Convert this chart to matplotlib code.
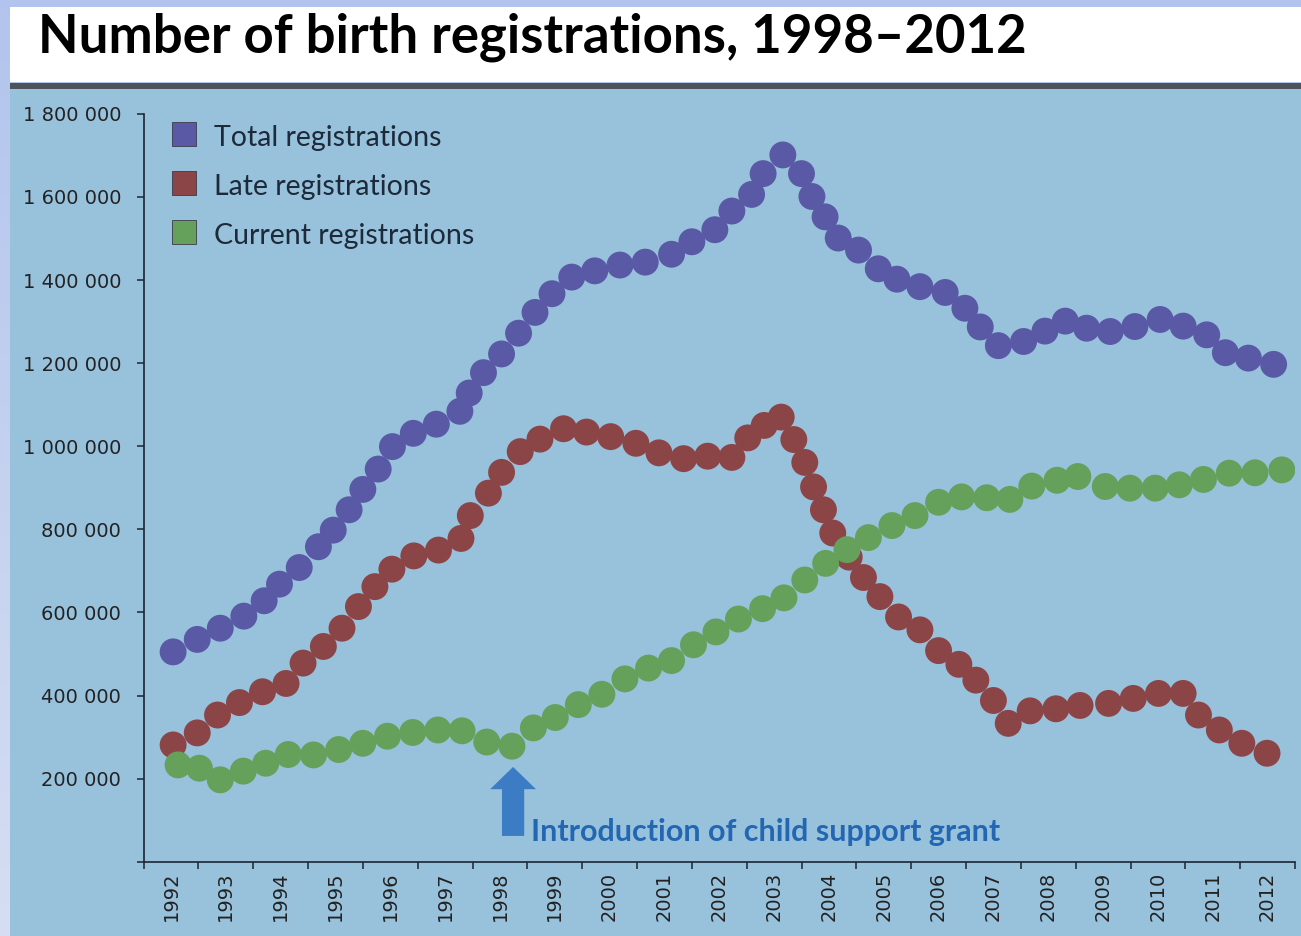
import matplotlib
matplotlib.use("Agg")
import matplotlib.pyplot as plt
from matplotlib.patches import Rectangle
import numpy as np

title = "Number of birth registrations, 1998–2012"
years = list(range(1992, 2013))
names = ["Total registrations", "Late registrations", "Current registrations"]
colors = ["#5a59a6", "#8c4547", "#65a15b"]

# dots (position in years, number of registrations)
total_x = [1992.04, 1992.48, 1992.90, 1993.33, 1993.70, 1993.98, 1994.34, 1994.69, 1994.96, 1995.25,
           1995.50, 1995.78, 1996.04, 1996.42, 1996.84, 1997.27, 1997.44, 1997.70, 1998.03, 1998.34,
           1998.64, 1998.95, 1999.31, 1999.73, 2000.19, 2000.65, 2001.13, 2001.50, 2001.92, 2002.23,
           2002.59, 2002.80, 2003.16, 2003.50, 2003.69, 2003.93, 2004.17, 2004.54, 2004.90, 2005.24,
           2005.66, 2006.12, 2006.48, 2006.76, 2007.09, 2007.55, 2007.94, 2008.31, 2008.70, 2009.13,
           2009.58, 2010.04, 2010.46, 2010.89, 2011.23, 2011.65, 2012.11]
total_y = [505000, 535000, 562000, 591000, 628000, 668000, 708000, 758000, 798000, 847000,
           896000, 945000, 999000, 1031000, 1053000, 1084000, 1128000, 1177000, 1222000, 1272000,
           1322000, 1367000, 1407000, 1422000, 1436000, 1443000, 1462000, 1492000, 1521000, 1566000,
           1606000, 1656000, 1701000, 1656000, 1601000, 1552000, 1501000, 1472000, 1427000, 1402000,
           1384000, 1370000, 1332000, 1287000, 1242000, 1252000, 1277000, 1301000, 1284000, 1276000,
           1288000, 1305000, 1289000, 1268000, 1225000, 1212000, 1197000]

late_x = [1992.04, 1992.48, 1992.85, 1993.25, 1993.67, 1994.10, 1994.41, 1994.78, 1995.12, 1995.42,
          1995.72, 1996.03, 1996.43, 1996.88, 1997.29, 1997.46, 1997.79, 1998.03, 1998.37, 1998.73,
          1999.16, 1999.58, 2000.02, 2000.48, 2000.90, 2001.35, 2001.79, 2002.23, 2002.52, 2002.82,
          2003.13, 2003.36, 2003.56, 2003.72, 2003.90, 2004.07, 2004.37, 2004.63, 2004.93, 2005.27,
          2005.66, 2006.00, 2006.37, 2006.68, 2007.00, 2007.27, 2007.67, 2008.14, 2008.58, 2009.10,
          2009.55, 2010.01, 2010.46, 2010.74, 2011.12, 2011.53, 2011.99]
late_y = [281000, 310000, 353000, 383000, 409000, 429000, 478000, 518000, 562000, 614000,
          662000, 704000, 736000, 750000, 778000, 833000, 887000, 937000, 987000, 1017000,
          1042000, 1034000, 1023000, 1007000, 984000, 970000, 976000, 973000, 1020000, 1050000,
          1070000, 1016000, 961000, 902000, 847000, 791000, 733000, 684000, 638000, 589000,
          558000, 508000, 475000, 437000, 388000, 333000, 363000, 368000, 376000, 381000,
          393000, 405000, 405000, 353000, 317000, 285000, 261000]

current_x = [1992.13, 1992.52, 1992.90, 1993.32, 1993.73, 1994.14, 1994.60, 1995.06, 1995.50, 1995.95,
             1996.41, 1996.87, 1997.31, 1997.76, 1998.22, 1998.61, 1999.01, 1999.43, 1999.86, 2000.28,
             2000.71, 2001.13, 2001.53, 2001.94, 2002.35, 2002.79, 2003.18, 2003.56, 2003.94, 2004.33,
             2004.72, 2005.15, 2005.57, 2006.00, 2006.42, 2006.88, 2007.30, 2007.70, 2008.16, 2008.54,
             2009.04, 2009.49, 2009.95, 2010.39, 2010.83, 2011.30, 2011.77, 2012.26]
current_y = [233000, 225000, 197000, 218000, 237000, 258000, 257000, 270000, 285000, 302000,
             311000, 317000, 315000, 288000, 278000, 322000, 347000, 378000, 403000, 440000,
             466000, 484000, 522000, 553000, 584000, 609000, 635000, 678000, 718000, 751000,
             780000, 809000, 833000, 865000, 878000, 876000, 872000, 904000, 918000, 927000,
             903000, 899000, 899000, 907000, 920000, 935000, 936000, 943000]

y_ticks = [0, 200000, 400000, 600000, 800000, 1000000, 1200000, 1400000, 1600000, 1800000]

note = "Introduction of child support grant"
note_year = 1998.24
note_tip = 228000
note_base = 62000

W, H = 1301, 936
fig = plt.figure(figsize=(W / 100, H / 100), dpi=100)

# background: lavender gradient, white title band, dark rule, blue panel
bg = fig.add_axes([0, 0, 1, 1], zorder=-10)
grad = np.linspace(0, 1, 256).reshape(-1, 1)
top = np.array([0.70, 0.77, 0.93])
bot = np.array([0.84, 0.87, 0.95])
img = top + (bot - top) * grad[:, :, None]
bg.imshow(img, extent=[0, 1, 0, 1], aspect="auto", origin="upper")
bg.add_patch(Rectangle((10 / W, 1 - 82 / H), 1, 75 / H, color="white", lw=0))
bg.add_patch(Rectangle((10 / W, 1 - 89 / H), 1, 6 / H, color="#4d545c", lw=0))
bg.add_patch(Rectangle((10 / W, 0), 1, 1 - 89 / H, color="#98c1dc", lw=0))
bg.set_xlim(0, 1)
bg.set_ylim(0, 1)
bg.axis("off")

fig.text(38 / W, 1 - 52 / H, title, fontsize=38, family="Lato", weight="bold",
         color="black", va="baseline", ha="left")

ax = fig.add_axes([143.5 / W, 1 - 861.7 / H, 1151.5 / W, 747.9 / H])
ax.set_facecolor("none")

for xs, ys, c in zip([total_x, late_x, current_x], [total_y, late_y, current_y], colors):
    ax.scatter(xs, ys, s=375, color=c, edgecolors="none", zorder=3)

ax.set_xlim(years[0] - 0.5, years[-1] + 0.5)
ax.set_ylim(0, 1800000)

ax.set_yticks(y_ticks)
ax.set_yticklabels(["" if v == 0 else f"{v:,}".replace(",", " ") for v in y_ticks])
ax.set_xticks(years)
ax.set_xticklabels([str(y) for y in years], rotation=90)
ax.set_xticks([y - 0.5 for y in years] + [years[-1] + 0.5], minor=True)

dark = "#1c2633"
ax.tick_params(axis="y", length=5, width=1.1, color=dark, pad=11,
               labelsize=14, labelcolor="#222222")
ax.tick_params(axis="x", which="major", length=0, pad=7, labelsize=14, labelcolor="#222222")
ax.tick_params(axis="x", which="minor", length=5, width=1.1, color=dark)
for side in ["top", "right"]:
    ax.spines[side].set_visible(False)
for side in ["left", "bottom"]:
    ax.spines[side].set_color(dark)
    ax.spines[side].set_linewidth(1.2)

# legend
ax_h = 747.9
for i, (name, c) in enumerate(zip(names, colors)):
    top_px = 122 + 49 * i
    ax.add_patch(Rectangle(((172 - 143.5) / 1151.5, (861.7 - top_px - 24) / ax_h),
                           24 / 1151.5, 24 / ax_h, transform=ax.transAxes,
                           facecolor=c, edgecolor="#3a3a4a", lw=0.6, zorder=4))
    ax.text((214 - 143.5) / 1151.5, (861.7 - top_px - 24) / ax_h, name,
            transform=ax.transAxes, fontsize=20.5, family="Lato", color="#1c2a3a",
            va="baseline", ha="left")

# child support grant marker
ax.annotate("", xy=(note_year, note_tip), xytext=(note_year, note_base),
            arrowprops=dict(arrowstyle="simple,head_width=3.3,head_length=1.6,tail_width=1.6",
                            mutation_scale=10, color="#3b7cc4", lw=0,
                            shrinkA=0, shrinkB=0))
ax.text(note_year + 0.33, note_base + 10000, note, fontsize=22, weight="bold",
        family="Lato", color="#2367b2", va="center", ha="left")

fig.savefig("out.png", dpi=100)
